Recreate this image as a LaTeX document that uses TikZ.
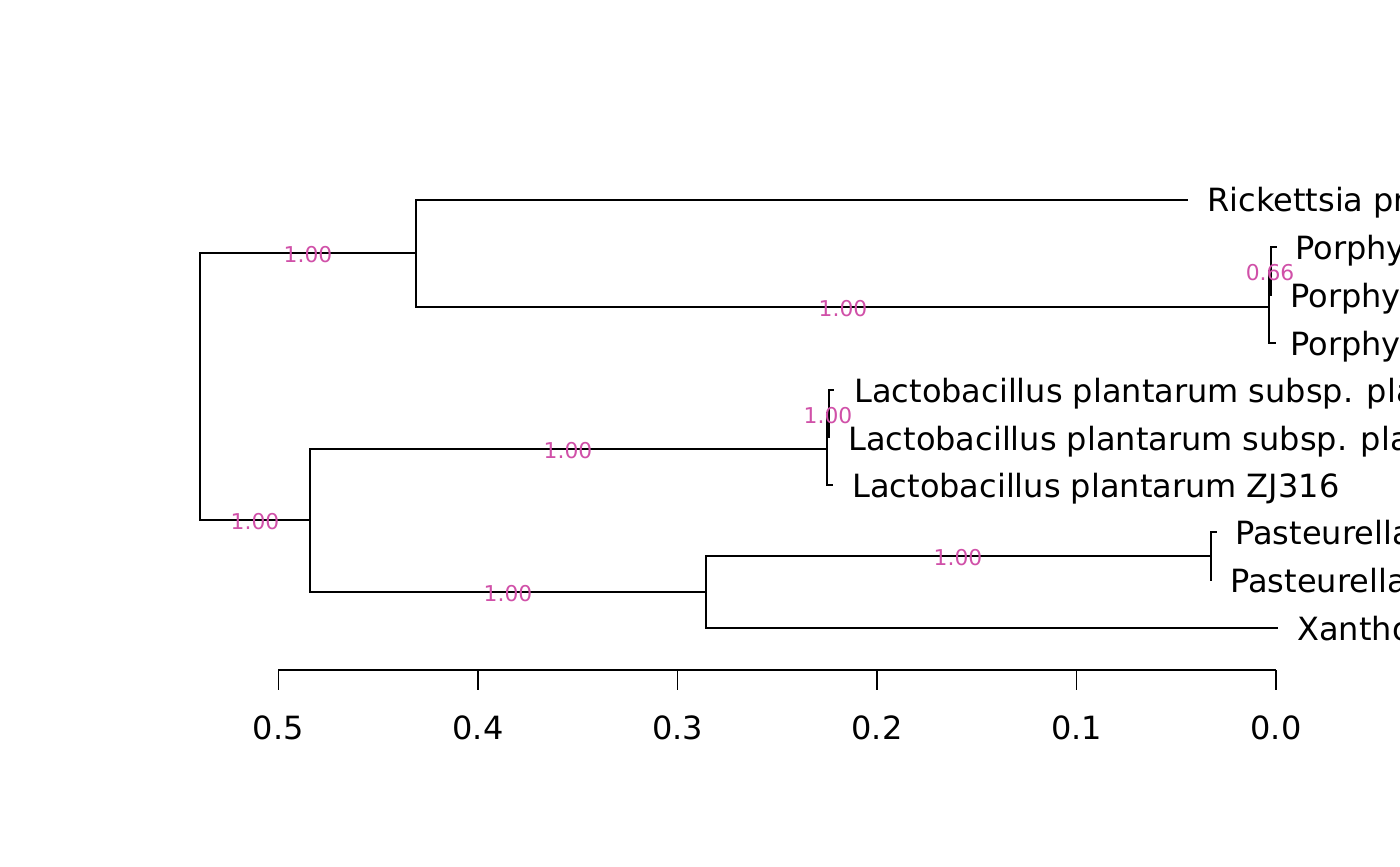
\documentclass[tikz,border=0pt]{standalone}
\usepackage{fontspec}
\setmainfont{DejaVu Sans}
\definecolor{boot}{RGB}{208,80,168}
\tikzset{
  br/.style={line width=0.9pt, line cap=rect},
  leaf/.style={anchor=base west, inner sep=0pt, font=\fontsize{16}{19}\selectfont},
  bs/.style={anchor=center, inner sep=0pt, text=boot, font=\fontsize{10.9}{12}\selectfont},
  tk/.style={anchor=center, inner sep=0pt, font=\fontsize{16}{19}\selectfont},
}
\begin{document}
\begin{tikzpicture}[x=0.5pt,y=-0.5pt]
\useasboundingbox (0,0) rectangle (1400,866);
\clip (0,0) rectangle (1400,866);
% internal node coordinates
\coordinate (r0) at (200,253);
\coordinate (r1) at (200,520);
\coordinate (t0) at (416,200);
\coordinate (t1) at (416,307);
\coordinate (pA0) at (1269,271);
\coordinate (pA1) at (1269,343);
\coordinate (pB0) at (1271,247);
\coordinate (pB1) at (1271,295);
\coordinate (lo0) at (310,449);
\coordinate (lo1) at (310,592);
\coordinate (lC0) at (827,413);
\coordinate (lC1) at (827,485);
\coordinate (lD0) at (829,390);
\coordinate (lD1) at (829,437);
\coordinate (x0) at (706,556);
\coordinate (x1) at (706,628);
\coordinate (pa0) at (1211,532);
\coordinate (pa1) at (1211,580);
% tips
\coordinate (tipR) at (1187,200);
\coordinate (tipP1) at (1276,247);
\coordinate (tipP3) at (1275,343);
\coordinate (tipL1) at (833,390);
\coordinate (tipL3) at (832,485);
\coordinate (tipPa1) at (1216,532);
\coordinate (tipX) at (1277,628);
% branches
\draw[br] (r0) -- (r1);
\draw[br] (r0) -- (t0 |- r0);
\draw[br] (r1) -- (lo0 |- r1);
\draw[br] (t0) -- (t1);
\draw[br] (t0) -- (tipR);
\draw[br] (t1) -- (pA0 |- t1);
\draw[br] (pA0) -- (pA1);
\draw[br] (pA1) -- (tipP3);
\draw[br] (pA0) -- (pB0 |- pA0);
\draw[br] (pB0) -- (pB1);
\draw[br] (pB0) -- (tipP1);
\draw[br] (lo0) -- (lo1);
\draw[br] (lo0) -- (lC0 |- lo0);
\draw[br] (lC0) -- (lC1);
\draw[br] (lC1) -- (tipL3);
\draw[br] (lC0) -- (lD0 |- lC0);
\draw[br] (lD0) -- (lD1);
\draw[br] (lD0) -- (tipL1);
\draw[br] (lo1) -- (x0 |- lo1);
\draw[br] (x0) -- (x1);
\draw[br] (x1) -- (tipX);
\draw[br] (x0) -- (pa0 |- x0);
\draw[br] (pa0) -- (pa1);
\draw[br] (pa0) -- (tipPa1);
% leaf labels
\node[leaf] (nR) at (1207,212) {Rickettsia pr};
\node[leaf] (nP1) at (1295,259) {Porphy};
\node[leaf] (nP2) at (1290,307) {Porphy};
\node[leaf] (nP3) at (1290,355) {Porphy};
\node[leaf] (nL1) at (854,402) {Lactobacillus plantarum subsp. pla};
\node[leaf] (nL2) at (848,450) {Lactobacillus plantarum subsp. pla};
\node[leaf] (nL3) at (852,497) {Lactobacillus plantarum ZJ316};
\node[leaf] (nPa1) at (1235,544) {Pasteurella};
\node[leaf] (nPa2) at (1230,592) {Pasteurella};
\node[leaf] (nX) at (1297,640) {Xantho};
% bootstrap labels
\node[bs] (b1) at (308,254.5) {1.00};
\node[bs] (b2) at (843,308.5) {1.00};
\node[bs] (b3) at (1270,272.5) {0.66};
\node[bs] (b4) at (828,415.5) {1.00};
\node[bs] (b5) at (568,450.5) {1.00};
\node[bs] (b6) at (255,521.5) {1.00};
\node[bs] (b7) at (508,593.5) {1.00};
\node[bs] (b8) at (958,557.5) {1.00};
% axis
\coordinate (a0) at (278.4,670);
\coordinate (a5) at (1276,670);
\draw[br, line cap=butt] (a0) -- (a5);
\foreach \i/\lab in {0/0.5,1/0.4,2/0.3,3/0.2,4/0.1,5/0.0}{
  \coordinate (tick\i) at ({278.4+199.52*\i},670);
  \draw[br, line cap=butt] (tick\i) -- ++(0,20);
  \node[tk] (lab\i) at ({278.4+199.52*\i},728) {\lab};
}
\end{tikzpicture}
\end{document}
